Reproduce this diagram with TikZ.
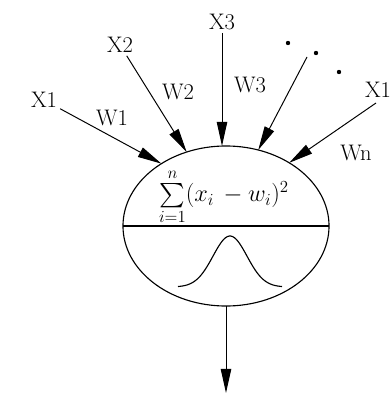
\documentclass[tikz,border=0pt]{standalone}
\usepackage{amsmath}
\usepackage{tikz}
\usetikzlibrary{arrows.meta,shapes.geometric}

\begin{document}
\begin{tikzpicture}[
  x=0.025cm, y=-0.025cm,
  lbl/.style={font=\fontsize{16}{18}\selectfont, inner sep=2pt},
  arr/.style={-{Triangle[length=6mm,width=2.6mm]}, line width=0.7pt},
  cell/.style={draw, ellipse, line width=0.8pt, minimum width=5.15cm, minimum height=4cm, inner sep=0pt, outer sep=0pt}
]
\useasboundingbox (0,0) rectangle (392,394);

% Neuron body
\node[cell] (neuron) at (226,226) {};
\draw[line width=0.8pt] (neuron.west) -- (neuron.east);
\node[font=\fontsize{18}{20}\selectfont, inner sep=0pt] (dist) at (224,197) {$\sum\limits_{i=1}^{n}(x_i\,-w_i)^2$};
\draw[line width=0.8pt] plot[domain=-52:52, samples=60] ({230+\x},{287-51*exp(-(\x/24)^2)});

% Inputs
\node[lbl] (x1) at (44,100) {X1};
\node[lbl] (x2) at (120,45) {X2};
\node[lbl] (x3) at (222,22) {X3};
\node[lbl] (xn) at (378,90) {X1};
\coordinate (dstart) at (307,57);
\coordinate (xnstart) at (376,103);

\draw[arr] (x1) -- (neuron.136);
\draw[arr] (x2) -- (neuron.118);
\draw[arr] (x3) -- (x3 |- neuron.north);
\draw[arr] (dstart) -- (neuron.67);
\draw[arr] (xnstart) -- (neuron.45);

% Weights
\node[lbl] (w1) at (112,118) {W1};
\node[lbl] (w2) at (178,92) {W2};
\node[lbl] (w3) at (250,85) {W3};
\node[lbl] (wn) at (356,153) {Wn};

% Dots
\fill (288,43) circle (2.2);
\fill (316,53) circle (2.2);
\fill (339,72) circle (2.2);

% Output
\coordinate (out) at (226,393);
\draw[arr] (neuron.south) -- (out);
\end{tikzpicture}
\end{document}
